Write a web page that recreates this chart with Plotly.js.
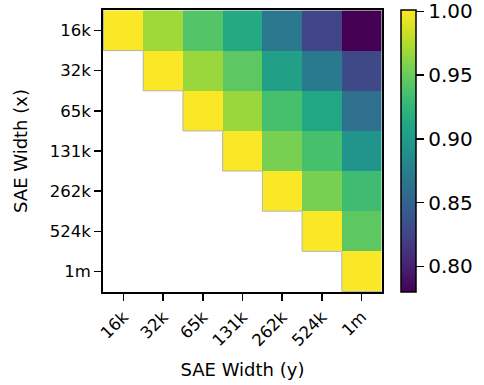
<!DOCTYPE html>
<html><head><meta charset="utf-8">
<script src="https://cdn.plot.ly/plotly-3.0.1.min.js"></script>
<style>body{margin:0;background:#fff}</style>
</head><body><div id="chart" style="width:484px;height:385px"></div>
<script>
const widths = ["16k","32k","65k","131k","262k","524k","1m"];
const row16k  = [1.00, 0.969, 0.941, 0.914, 0.868, 0.824, 0.780];
const row32k  = [null, 1.00, 0.967, 0.945, 0.905, 0.870, 0.828];
const row65k  = [null, null, 1.00, 0.967, 0.936, 0.912, 0.861];
const row131k = [null, null, null, 1.00, 0.956, 0.936, 0.894];
const row262k = [null, null, null, null, 1.00, 0.956, 0.932];
const row524k = [null, null, null, null, null, 1.00, 0.945];
const row1m   = [null, null, null, null, null, null, 1.00];
const z = [row16k,row32k,row65k,row131k,row262k,row524k,row1m];
const cbTicks = [0.80,0.85,0.90,0.95,1.00];

const viridis = [[0,'#440154'],[0.1,'#482475'],[0.2,'#414487'],[0.3,'#355f8d'],[0.4,'#2a788e'],[0.5,'#21918c'],[0.6,'#22a884'],[0.7,'#44bf70'],[0.8,'#7ad151'],[0.9,'#bddf26'],[1,'#fde725']];

const shapes = [];
widths.forEach((w,i)=>{
  shapes.push({type:'line',xref:'x',yref:'y',x0:i-0.5,x1:i-0.5,y0:i-0.5,y1:i+0.5,line:{color:'#b4b4b4',width:1},layer:'above'});
  shapes.push({type:'line',xref:'x',yref:'y',x0:i-0.5,x1:i+0.5,y0:i+0.5,y1:i+0.5,line:{color:'#b4b4b4',width:1},layer:'above'});
});

const fam = 'DejaVu Sans, sans-serif';
Plotly.newPlot('chart',[{
  type:'heatmap', x:widths, y:widths, z:z,
  colorscale:viridis, zmin:0.78, zmax:1.001, hoverongaps:false,
  colorbar:{x:1.068, xanchor:'left', y:0.5, yanchor:'middle', len:1, lenmode:'fraction',
    thickness:15, thicknessmode:'pixels', outlinewidth:1.5, outlinecolor:'#000',
    tickvals:cbTicks, ticktext:cbTicks.map(v=>v.toFixed(2)), ticks:'outside', ticklen:8, tickwidth:1.5, tickcolor:'#000',
    ticklabeloverflow:'allow',
    tickfont:{family:fam, size:20, color:'#000'}, xpad:0, ypad:0}
}],{
  width:484, height:385,
  margin:{l:103, r:99, t:10, b:93},
  paper_bgcolor:'#fff', plot_bgcolor:'#fff',
  font:{family:fam, size:16, color:'#000'},
  shapes:shapes,
  xaxis:{type:'category', tickangle:-45, ticks:'outside', ticklen:7, tickwidth:1.5, tickcolor:'#000',
    showline:true, linecolor:'#000', linewidth:1.8, mirror:true, showgrid:false, zeroline:false,
    tickfont:{family:fam, size:16.5, color:'#000'},
    title:{text:'SAE Width (y)', font:{family:fam, size:18, color:'#000'}, standoff:14}},
  yaxis:{type:'category', autorange:'reversed', ticks:'outside', ticklen:7, tickwidth:1.5, tickcolor:'#000',
    showline:true, linecolor:'#000', linewidth:1.8, mirror:true, showgrid:false, zeroline:false,
    tickfont:{family:fam, size:16.5, color:'#000'},
    title:{text:'SAE Width (x)', font:{family:fam, size:18, color:'#000'}, standoff:17}}
},{staticPlot:true});
</script></body></html>
